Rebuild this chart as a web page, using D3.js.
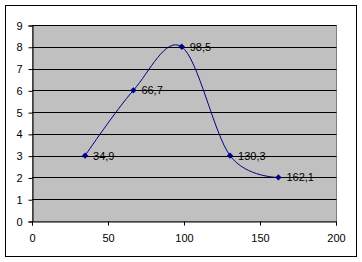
<!DOCTYPE html>
<meta charset="utf-8">
<script src="https://d3js.org/d3.v7.min.js"></script>
<style>
body { margin: 0; background: #fff; }
text { font-family: "Liberation Sans", Arial, sans-serif; font-size: 11px; fill: #000; }
</style>
<div id="chart"></div>
<script>

// data
var xValues = [34.9, 66.7, 98.5, 130.3, 162.1];
var yValues = [3, 6, 8, 3, 2];
var pointLabels = ["34,9", "66,7", "98,5", "130,3", "162,1"];
var xTicks = [0, 50, 100, 150, 200];
var yTicks = [0, 1, 2, 3, 4, 5, 6, 7, 8, 9];

var points = xValues.map(function(v, i) { return {x: v, y: yValues[i], label: pointLabels[i]}; });

var W = 362, H = 262;
var plot = {left: 32, top: 25, right: 336, bottom: 221};

var svg = d3.select("#chart").append("svg")
  .attr("width", W)
  .attr("height", H);

// chart frame
svg.append("rect")
  .attr("x", 5.5).attr("y", 5.5)
  .attr("width", 351).attr("height", 251)
  .attr("fill", "#fff").attr("stroke", "#000");

var x = d3.scaleLinear().domain([0, 200]).range([plot.left, plot.right]);
var y = d3.scaleLinear().domain([0, 9]).range([plot.bottom, plot.top]);

// plot area
svg.append("rect")
  .attr("x", plot.left + 0.5).attr("y", plot.top + 0.5)
  .attr("width", plot.right - plot.left).attr("height", plot.bottom - plot.top)
  .attr("fill", "#c0c0c0").attr("stroke", "#808080");

// gridlines
svg.append("g")
  .selectAll("line")
  .data(yTicks.filter(function(d) { return d > 0; }))
  .enter().append("line")
    .attr("x1", plot.left).attr("x2", plot.right + 0.5)
    .attr("y1", function(d) { return Math.round(y(d)) + 0.5; })
    .attr("y2", function(d) { return Math.round(y(d)) + 0.5; })
    .attr("stroke", "#000");

// axes
var yAxis = svg.append("g")
  .attr("transform", "translate(" + (plot.left + 0.5) + ",0.5)")
  .call(d3.axisLeft(y).tickValues(yTicks).tickSize(4).tickPadding(6).tickFormat(d3.format("d")));

var xAxis = svg.append("g")
  .attr("transform", "translate(0," + (plot.bottom + 0.5) + ")")
  .call(d3.axisBottom(x).tickValues(xTicks).tickSize(4).tickPadding(9).tickFormat(d3.format("d")));

[xAxis, yAxis].forEach(function(a) {
  a.select(".domain").attr("stroke", "#000");
  a.selectAll(".tick line").attr("stroke", "#000");
  a.selectAll("text").attr("font-family", null).attr("font-size", null);
});

// smoothed line
var line = d3.line()
  .x(function(d) { return x(d.x); })
  .y(function(d) { return y(d.y); })
  .curve(d3.curveCardinal.tension(0));

svg.append("path")
  .datum(points)
  .attr("d", line)
  .attr("fill", "none")
  .attr("stroke", "#000080")
  .attr("stroke-width", 1);

// markers (square turned 45deg, like excel's diamond)
svg.selectAll(".marker")
  .data(points)
  .enter().append("path")
    .attr("class", "marker")
    .attr("transform", function(d) { return "translate(" + x(d.x) + "," + y(d.y) + ") rotate(45)"; })
    .attr("d", d3.symbol().type(d3.symbolSquare).size(20))
    .attr("fill", "#000080");

// data labels
svg.selectAll(".lbl")
  .data(points)
  .enter().append("text")
    .attr("class", "lbl")
    .attr("x", function(d) { return x(d.x) + 8; })
    .attr("y", function(d) { return y(d.y); })
    .attr("dy", "0.35em")
    .text(function(d) { return d.label; });

</script>
